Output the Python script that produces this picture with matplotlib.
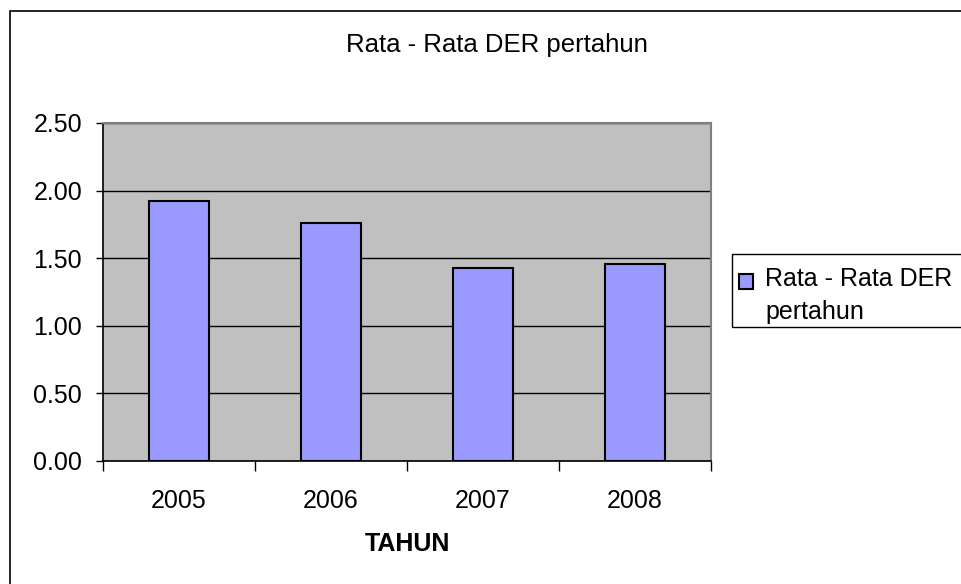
import matplotlib.pyplot as plt
import matplotlib.patches as mpatches
from matplotlib.container import BarContainer
from matplotlib.legend_handler import HandlerPatch, update_from_first_child

# data
years = ["2005", "2006", "2007", "2008"]
der_values = [1.92, 1.76, 1.43, 1.46]
y_ticks = [0.0, 0.5, 1.0, 1.5, 2.0, 2.5]

plt.rcParams['font.family'] = ['Liberation Sans', 'DejaVu Sans']

W, H = 961, 584
fig = plt.figure(figsize=(W / 100, H / 100), dpi=100)

# chart area border (cut off on right and bottom like the original)
border = mpatches.Rectangle((10 / W, -0.05), 1.1, 1 - 11 / H + 0.05,
                            transform=fig.transFigure, fill=False,
                            edgecolor="black", linewidth=1.2, clip_on=False)
fig.patches.append(border)

ax = fig.add_axes([103 / W, 123 / H, (711 - 103) / W, (461 - 123) / H])
ax.set_facecolor("#c0c0c0")

x = range(len(years))
ax.bar(x, der_values, width=0.4, color="#9999ff", edgecolor="black",
       linewidth=1.5, zorder=3, label="Rata - Rata DER\npertahun")

ax.set_xlim(-0.5, len(years) - 0.5)
ax.set_ylim(0, 2.5)
ax.set_yticks(y_ticks)
ax.set_yticklabels([f"{v:.2f}" for v in y_ticks], fontsize=18)
ax.yaxis.grid(True, color="black", linewidth=1.0, zorder=1)

# category labels centered, ticks on boundaries
ax.set_xticks(list(x))
ax.set_xticklabels(years, fontsize=18)
ax.tick_params(axis="x", which="major", length=0, pad=20)
ax.set_xticks([i - 0.5 for i in range(len(years) + 1)], minor=True)
ax.tick_params(axis="x", which="minor", length=7, width=1, direction="out")
ax.tick_params(axis="y", length=5, width=1, direction="out", pad=10)

for side in ["top", "right"]:
    ax.spines[side].set_color("#808080")
    ax.spines[side].set_linewidth(1.5)
for side in ["left", "bottom"]:
    ax.spines[side].set_color("black")
    ax.spines[side].set_linewidth(1.2)

ax.set_xlabel("TAHUN", fontsize=18, fontweight="bold", labelpad=14)

fig.text(497 / W, 1 - 45 / H, "Rata - Rata DER pertahun", fontsize=18.5,
         ha="center", va="center")


# legend marker sits next to the first line of the label
def top_square(legend, orig_handle, xdescent, ydescent, width, height, fontsize):
    return mpatches.Rectangle((-xdescent, -ydescent + 10.5), width, height)


leg_box = mpatches.Rectangle((732 / W, 1 - 327 / H), 0.5, 73 / H,
                             transform=fig.transFigure, fill=False,
                             edgecolor="black", linewidth=1.0, clip_on=False)
fig.patches.append(leg_box)
leg = ax.legend(loc="upper left", bbox_to_anchor=(739 / W, 1 - 267 / H),
                bbox_transform=fig.transFigure, fontsize=18, frameon=False,
                handlelength=0.55, handleheight=0.55, handletextpad=0.5,
                borderpad=0.0, borderaxespad=0,
                handler_map={BarContainer: HandlerPatch(
                    patch_func=top_square, update_func=update_from_first_child)})
for t in leg.get_texts():
    t.set_linespacing(1.45)

fig.savefig("out.png", dpi=100)
